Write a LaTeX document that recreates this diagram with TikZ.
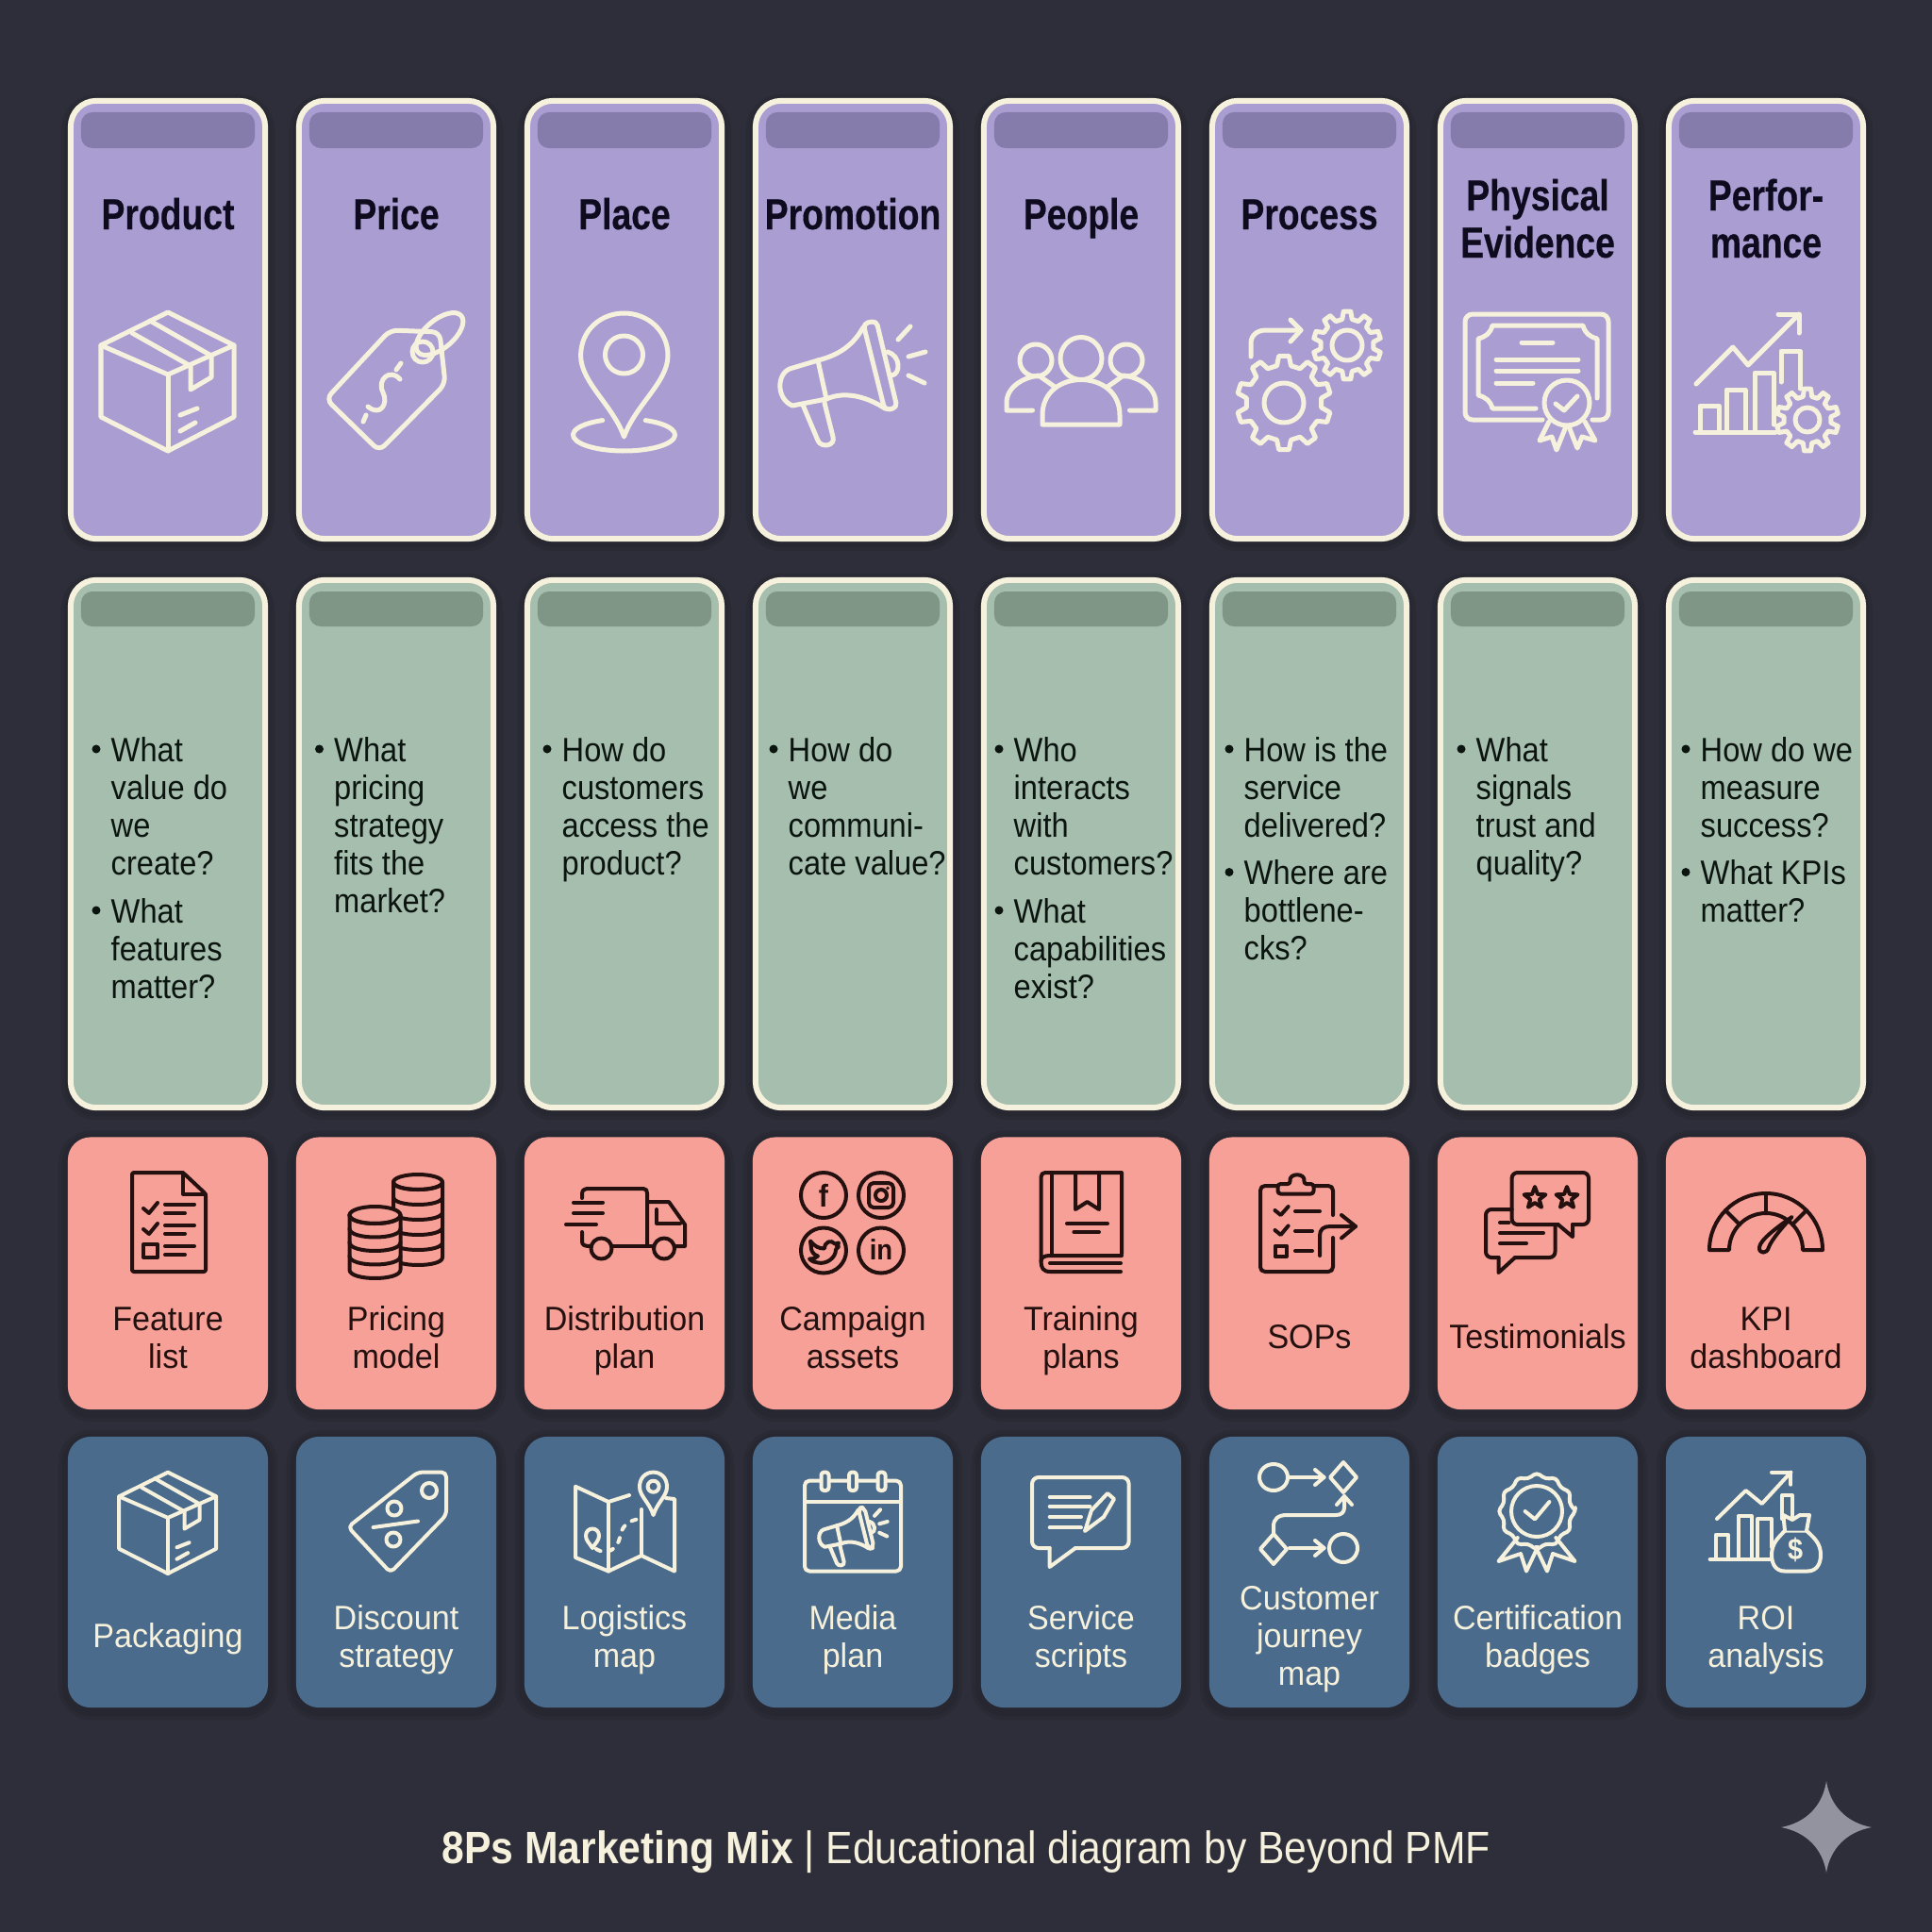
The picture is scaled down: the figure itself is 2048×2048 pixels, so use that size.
\documentclass[tikz,border=0pt]{standalone}
\usepackage{fontspec}
\setmainfont{Liberation Sans}
\newfontfamily\headfont{Liberation Sans}[FakeStretch=0.81,FakeBold=0.35]
\newfontfamily\bodyfont{Liberation Sans}[FakeStretch=0.91]
\newfontfamily\labelfont{Liberation Sans}[FakeStretch=0.95]
\newfontfamily\footfont{Liberation Sans}[FakeStretch=0.888]
\definecolor{bgc}{HTML}{2E2E3A}
\definecolor{creamc}{HTML}{F5F1DC}
\definecolor{purplec}{HTML}{A99DD2}
\definecolor{purplebar}{HTML}{857CAB}
\definecolor{greenc}{HTML}{A6BEAE}
\definecolor{greenbar}{HTML}{7F9687}
\definecolor{coralc}{HTML}{F6A097}
\definecolor{bluec}{HTML}{4A6B8C}
\definecolor{inkc}{HTML}{0E0B1E}
\definecolor{coralink}{HTML}{24100F}
\definecolor{greenink}{HTML}{0B140F}
\definecolor{starc}{HTML}{93939F}
\tikzset{
  softsh/.style={preaction={draw=black,draw opacity=.07,line width=.2cm,transform canvas={yshift=-.03cm}},
                 preaction={draw=black,draw opacity=.07,line width=.12cm,transform canvas={yshift=-.03cm}}},
  cardbase/.style={rectangle,inner sep=0,outer sep=0,softsh},
  tallcard/.style={cardbase,draw=creamc,line width=.06cm,rounded corners=.27cm,minimum width=2.06cm},
  pcard/.style={tallcard,fill=purplec,minimum height=4.64cm},
  gcard/.style={tallcard,fill=greenc,minimum height=5.59cm},
  headbar/.style={rectangle,inner sep=0,outer sep=0,rounded corners=.12cm,minimum width=1.84cm},
  pbar/.style={headbar,fill=purplebar,minimum height=.38cm},
  gbar/.style={headbar,fill=greenbar,minimum height=.37cm},
  smallcard/.style={cardbase,rounded corners=.24cm,minimum width=2.12cm},
  ccard/.style={smallcard,fill=coralc,minimum height=2.885cm},
  bcard/.style={smallcard,fill=bluec,minimum height=2.87cm},
  titletext/.style={anchor=base,inner sep=0,text=inkc,font=\headfont\bfseries\fontsize{13.1}{15}\selectfont},
  bodytext/.style={anchor=base west,inner sep=0,text=greenink,font=\bodyfont\fontsize{10.2}{12}\selectfont},
  coraltext/.style={anchor=base,inner sep=0,text=coralink,font=\labelfont\fontsize{10.2}{12}\selectfont},
  bluetext/.style={anchor=base,inner sep=0,text=creamc,font=\labelfont\fontsize{10.2}{12}\selectfont},
  bulletdot/.style={circle,fill=greenink,inner sep=0,minimum size=.09cm},
  iconp/.style={draw=creamc,line width=.05cm,line cap=round,line join=round},
  icond/.style={draw=coralink,line width=.04cm,line cap=round,line join=round},
  iconl/.style={draw=creamc,line width=.04cm,line cap=round,line join=round},
}
% multi-line text: one node per line
\newcommand\tlines[6]{% style, name, x, y, leading, list
  \foreach \lnx [count=\lni from 0] in {#6} {
    \node[#1] (#2-\lni) at (#3,{#4+#5*\lni}) {\lnx};
  }}
\newcommand\qblock[4]{% name, x, y, list
  \node[bulletdot] (#1-dot) at ({#2-16},{#3-13}) {};
  \tlines{bodytext}{#1}{{#2-1}}{#3}{40}{#4}}
\newcommand\gearicon[6]{% cx cy ro ri hole n
  \draw[shift={(#1,#2)}] ({-90-0.30*360/#6}:#4)
    \foreach \gk in {1,...,#6} {
      -- ({-90+(\gk-1-.30)*360/#6}:#4) -- ({-90+(\gk-1-.17)*360/#6}:#3)
      -- ({-90+(\gk-1+.17)*360/#6}:#3) -- ({-90+(\gk-1+.30)*360/#6}:#4)
    } -- cycle;
  \draw[shift={(#1,#2)}] (0,0) circle [radius=#5];}
\newcommand\boxicon{%
  \draw (0,-73) -- (-71,-38) -- (-71,38) -- (0,74) -- (70,38) -- (70,-38) -- cycle;
  \draw (-71,-38) -- (0,-7) -- (70,-38);
  \draw (0,-7) -- (0,74);
  \draw (-19,-64) -- (46,-27) -- (46,-4) -- (24,9) -- (24,-16) -- (-38,-51);
  \draw (13,36) -- (31,29);
  \draw (13,53) -- (29,44);}
\newcommand\megaicon{%
  \draw[rounded corners=.05cm] (12,-62) -- (26,-65) -- (48,27) -- (35,30) -- cycle;
  \draw (12,-58) .. controls (4,-44) and (-8,-30) .. (-36,-23);
  \draw (35,28) .. controls (20,18) and (-5,8) .. (-27,18);
  \draw (-36,-23) -- (-27,18);
  \draw (-36,-23) -- (-66,-14) .. controls (-80,-8) and (-80,18) .. (-63,25) -- (-27,18);
  \draw (-52,24) -- (-36,62) .. controls (-33,70) and (-17,68) .. (-20,58) -- (-29,22);
  \draw (38,-32) .. controls (52,-28) and (52,-8) .. (42,-7);
  \draw (49,-45) -- (62,-59);
  \draw (60,-27) -- (78,-32);
  \draw (60,-7) -- (77,1);}
\newcommand\coinstack[7]{% cx top rx ry n step fill
  \draw[fill=#7] ({#1-#3},#2) -- ({#1-#3},{#2+#5*#6})
     .. controls ({#1-#3},{#2+#5*#6+1.33*#4}) and ({#1+#3},{#2+#5*#6+1.33*#4}) .. ({#1+#3},{#2+#5*#6})
     -- ({#1+#3},#2);
  \draw[fill=#7] (#1,#2) ellipse [x radius=#3,y radius=#4];
  \foreach \ck in {1,...,#5} {
    \draw ({#1-#3},{#2+\ck*#6-#6}) .. controls ({#1-#3},{#2+\ck*#6-#6+1.33*#4}) and ({#1+#3},{#2+\ck*#6-#6+1.33*#4}) .. ({#1+#3},{#2+\ck*#6-#6});
  }}
\newcommand\stariconp[3]{% cx cy R
  \draw[shift={(#1,#2)}] (-90:#3) -- (-54:{#3*.42}) -- (-18:#3) -- (18:{#3*.42}) -- (54:#3) -- (90:{#3*.42}) -- (126:#3) -- (162:{#3*.42}) -- (198:#3) -- (234:{#3*.42}) -- cycle;}
\begin{document}
\begin{tikzpicture}[x=.01cm,y=-.01cm]
\useasboundingbox (0,0) rectangle (2048,2048);
\fill[bgc] (0,0) rectangle (2048,2048);
% cards
\foreach \cc in {1,...,8} {
  \node[pcard] (p\cc) at ({178+(\cc-1)*242},339) {};
  \node[pbar] (pb\cc) at ({178+(\cc-1)*242},138) {};
  \node[gcard] (g\cc) at ({178+(\cc-1)*242},894.5) {};
  \node[gbar] (gb\cc) at ({178+(\cc-1)*242},645.5) {};
  \node[ccard] (c\cc) at ({178+(\cc-1)*242},1349.75) {};
  \node[bcard] (b\cc) at ({178+(\cc-1)*242},1666.5) {};
}
% titles
\tlines{titletext}{t1}{178}{243}{50}{Product}
\tlines{titletext}{t2}{420}{243}{50}{Price}
\tlines{titletext}{t3}{662}{243}{50}{Place}
\tlines{titletext}{t4}{904}{243}{50}{Promotion}
\tlines{titletext}{t5}{1146}{243}{50}{People}
\tlines{titletext}{t6}{1388}{243}{50}{Process}
\tlines{titletext}{t7}{1630}{223}{50}{Physical,Evidence}
\tlines{titletext}{t8}{1872}{223}{50}{Perfor-,mance}
% questions
\qblock{q1a}{118}{807}{What,value do,we,create?}
\qblock{q1b}{118}{978}{What,features,matter?}
\qblock{q2a}{354.5}{807}{What,pricing,strategy,fits the,market?}
\qblock{q3a}{596}{807}{How do,customers,access the,product?}
\qblock{q4a}{836}{807}{How do,we,communi-,cate value?}
\qblock{q5a}{1075}{807}{Who,interacts,with,customers?}
\qblock{q5b}{1075}{978}{What,capabilities,exist?}
\qblock{q6a}{1319}{807}{How is the,service,delivered?}
\qblock{q6b}{1319}{937.5}{Where are,bottlene-,cks?}
\qblock{q7a}{1565}{807}{What,signals,trust and,quality?}
\qblock{q8a}{1803}{807}{How do we,measure,success?}
\qblock{q8b}{1803}{937.5}{What KPIs,matter?}
% coral labels
\tlines{coraltext}{l1}{178}{1410}{40}{Feature,list}
\tlines{coraltext}{l2}{420}{1410}{40}{Pricing,model}
\tlines{coraltext}{l3}{662}{1410}{40}{Distribution,plan}
\tlines{coraltext}{l4}{904}{1410}{40}{Campaign,assets}
\tlines{coraltext}{l5}{1146}{1410}{40}{Training,plans}
\tlines{coraltext}{l6}{1388}{1429}{40}{SOPs}
\tlines{coraltext}{l7}{1630}{1429}{40}{Testimonials}
\tlines{coraltext}{l8}{1872}{1410}{40}{KPI,dashboard}
% blue labels
\tlines{bluetext}{m1}{178}{1746}{40}{Packaging}
\tlines{bluetext}{m2}{420}{1727}{40}{Discount,strategy}
\tlines{bluetext}{m3}{662}{1727}{40}{Logistics,map}
\tlines{bluetext}{m4}{904}{1727}{40}{Media,plan}
\tlines{bluetext}{m5}{1146}{1727}{40}{Service,scripts}
\tlines{bluetext}{m6}{1388}{1706}{40}{Customer,journey,map}
\tlines{bluetext}{m7}{1630}{1727}{40}{Certification,badges}
\tlines{bluetext}{m8}{1872}{1727}{40}{ROI,analysis}
% footer
\node[anchor=base west,inner sep=0,text=creamc,font=\footfont\fontsize{13.66}{16}\selectfont] (footer) at (468,1975) {\textbf{8Ps Marketing Mix} | Educational diagram by Beyond PMF};
\fill[starc] (1936,1888) .. controls (1940,1914) and (1957,1932) .. (1984,1937) .. controls (1957,1942) and (1940,1960) .. (1936,1985) .. controls (1932,1960) and (1915,1942) .. (1888,1937) .. controls (1915,1932) and (1932,1914) .. cycle;

% ===== purple icons =====
\begin{scope}[iconp]
  \begin{scope}[shift={(178,404)}] \boxicon \end{scope}
  % price tag
  \draw[rounded corners=.08cm] (413.5,350) -- (466,352) -- (472,407) -- (402,478) -- (345.6,423) -- cycle;
  \draw (448,373) circle [radius=11];
  \draw[rotate around={40:(466,354)}] (466,354) ellipse [x radius=30,y radius=15];
  \draw (424,402) .. controls (414,390) and (399,402) .. (406,416) .. controls (412,428) and (403,442) .. (390,431);
  \draw (420,392) -- (425,385);
  \draw (388,440) -- (385,447);
  % pin
  \draw (661.5,463) .. controls (650,430) and (615.6,405) .. (615.6,377) .. controls (615.6,350) and (637,332) .. (661.5,332) .. controls (686,332) and (708,350) .. (708,377) .. controls (708,405) and (673,430) .. (661.5,463) -- cycle;
  \draw (661.5,376) circle [radius=20];
  \draw ([shift={(661.5,461)}]-65:54 and 17) arc [start angle=-65,end angle=245,x radius=54,y radius=17];
  % megaphone
  \begin{scope}[shift={(903,405)}] \megaicon \end{scope}
  % people
  \draw (1146,380) ellipse [x radius=22,y radius=22.5];
  \draw (1105,450) -- (1187,450) -- (1187,440) .. controls (1187,390) and (1105,390) .. (1105,440) -- cycle;
  \draw (1098,382) ellipse [x radius=17,y radius=17];
  \draw (1194,382) ellipse [x radius=17,y radius=17];
  \draw (1094.5,435) -- (1067,435) -- (1067,427) .. controls (1067,410) and (1085,400) .. (1101,398) -- (1118,410);
  \draw (1197.5,435) -- (1225,435) -- (1225,427) .. controls (1225,410) and (1207,400) .. (1191,398) -- (1174,410);
  % process
  \gearicon{1361}{427}{50}{40}{21}{10}
  \gearicon{1428}{366}{36}{28}{16}{10}
  \draw (1326,378) -- (1326,364) .. controls (1326,355) and (1333,350) .. (1342,350) -- (1379,350);
  \draw (1368,339) -- (1379,350) -- (1368,362);
  % certificate
  \draw[rounded corners=.08cm] (1635,445) -- (1553,445) -- (1553,333) -- (1705,333) -- (1705,445) -- (1688,445);
  \draw (1628,433) -- (1582,433) .. controls (1580,425) and (1575,421) .. (1567,419) -- (1567,359) .. controls (1575,357) and (1580,353) .. (1582,345) -- (1678,345) .. controls (1680,353) and (1685,357) .. (1693,359) -- (1693,422);
  \draw (1613,363) -- (1646,363);
  \draw (1586,381) -- (1673,381);
  \draw (1586,393) -- (1673,393);
  \draw (1586,406) -- (1625,406);
  \draw (1661,427) circle [radius=24];
  \draw (1649,428) -- (1658,435) -- (1672,420);
  \draw (1642,447) -- (1632,467) -- (1645,463) -- (1650,477) -- (1660,452);
  \draw (1663,452) -- (1672,475) -- (1677,463) -- (1691,467) -- (1680,447);
  % performance
  \draw (1797,458) -- (1882,458);
  \draw (1802,458) -- (1802,430) -- (1822,430) -- (1822,458);
  \draw (1830,458) -- (1830,413) -- (1850,413) -- (1850,458);
  \draw (1860,458) -- (1860,395) -- (1880,395) -- (1880,450);
  \draw (1888,405) -- (1888,372) -- (1908,372) -- (1908,412);
  \draw (1798,407) -- (1837,368) -- (1853,387) -- (1907,333);
  \draw (1885,333) -- (1907,333) -- (1907,353);
  \gearicon{1916}{445}{33}{25}{13}{10}
\end{scope}

% ===== coral icons =====
\begin{scope}[icond]
  % feature list
  \draw[rounded corners=.02cm] (194,1243) -- (140,1243) -- (140,1348) -- (218,1348) -- (218,1265.5) -- cycle;
  \draw (194,1243) -- (194,1265.5) -- (218,1265.5);
  \draw (152,1281) -- (158,1286) -- (167,1275);
  \draw (175,1276.5) -- (206,1276.5);
  \draw (175,1286) -- (196,1286);
  \draw (152,1303) -- (158,1308) -- (167,1297);
  \draw (175,1299) -- (206,1299);
  \draw (175,1307.5) -- (196,1307.5);
  \draw (152,1319) rectangle (167,1333);
  \draw (175,1321) -- (206,1321);
  \draw (175,1330) -- (196,1330);
  % coins
  \coinstack{443}{1253}{26}{8}{5}{16}{coralc}
  \coinstack{397.5}{1288}{27}{9}{4}{14.5}{coralc}
  % truck
  \draw (617,1270) -- (617,1266) .. controls (617,1262) and (619,1260) .. (622,1260) -- (682,1260) .. controls (685,1260) and (686,1262) .. (686,1265) -- (686,1321);
  \draw (608,1274.5) -- (639,1274.5);
  \draw (608,1286) -- (639,1286);
  \draw (600,1298) -- (632,1298);
  \draw (617,1306) -- (617,1316) .. controls (617,1320) and (620,1321) .. (626,1321);
  \draw (648,1321) -- (693,1321);
  \draw (686,1274) -- (709,1274) -- (726,1298) -- (726,1321) -- (715,1321);
  \draw (696,1282) -- (696,1297) -- (721,1297);
  \draw (637.5,1323.5) circle [radius=11];
  \draw (704,1323.5) circle [radius=11];
  % social
  \draw (873,1267) circle [radius=24];
  \draw (934,1267) circle [radius=24];
  \draw (873,1325.5) circle [radius=24];
  \draw (934,1325.5) circle [radius=24];
  \node[inner sep=0,text=coralink,font=\bodyfont\bfseries\fontsize{9.5}{10}\selectfont] (fb) at (873,1267) {f};
  \node[inner sep=0,text=coralink,font=\bodyfont\bfseries\fontsize{8.6}{10}\selectfont] (li) at (934,1325) {in};
  \draw[rounded corners=.05cm] (921,1254) rectangle (947,1280);
  \draw (934,1267) circle [radius=6];
  \fill[coralink] (941,1259.5) circle [radius=1.8];
  \draw[shift={(873,1325.5)}] (-14,-10) .. controls (-9,-4) and (-5,-2) .. (1,-2) .. controls (1,-9) and (8,-12) .. (12,-7) -- (16,-8) -- (14,-4) -- (16,-4) -- (13,-1) .. controls (13,8) and (3,15) .. (-6,13) .. controls (-9,12.5) and (-12,12) .. (-15,9) .. controls (-11,9) and (-8,8) .. (-6,6) .. controls (-10,5) and (-13,1) .. (-13,-2) -- cycle;
  % book
  \draw (1189,1329) -- (1189,1243) -- (1108,1243) .. controls (1105,1243) and (1103.5,1245) .. (1103.5,1248) -- (1103.5,1337) .. controls (1103.5,1344) and (1106,1348) .. (1113,1348) -- (1188,1348);
  \draw (1103.5,1337) .. controls (1103.5,1333) and (1107,1331) .. (1113,1331) -- (1189,1331);
  \draw (1113,1339) -- (1188,1339);
  \draw (1114.5,1243) -- (1114.5,1329);
  \draw (1140,1243) -- (1140,1282) -- (1152.5,1274) -- (1165,1282) -- (1165,1243);
  \draw (1131,1297) -- (1174,1297);
  \draw (1138.4,1306) -- (1165,1306);
  % SOP
  \draw (1354.5,1257) -- (1341,1257) .. controls (1338,1257) and (1336,1259) .. (1336,1262) -- (1336,1343) .. controls (1336,1346) and (1338,1348) .. (1341,1348) -- (1408,1348) .. controls (1411,1348) and (1413,1346) .. (1413,1343) -- (1413,1312);
  \draw (1392.5,1257) -- (1408,1257) .. controls (1411,1257) and (1413,1259) .. (1413,1262) -- (1413,1288);
  \draw[rounded corners=.03cm] (1354.5,1265.5) -- (1354.5,1255) -- (1368,1255) .. controls (1366,1243) and (1384,1243) .. (1382,1255) -- (1392.5,1255) -- (1392.5,1265.5) -- cycle;
  \draw (1351.5,1283) -- (1357.6,1288) -- (1365.6,1279);
  \draw (1373,1284) -- (1399,1284);
  \draw (1351.5,1304) -- (1357.6,1309) -- (1365.6,1299.4);
  \draw (1373,1305) -- (1391,1305);
  \draw (1351.5,1320.6) rectangle (1364,1331.6);
  \draw (1373,1326) -- (1391,1326);
  \draw (1399,1331) -- (1399,1310) .. controls (1399,1303) and (1403,1300) .. (1410,1300) -- (1437,1300);
  \draw (1422,1288) -- (1437,1300) -- (1422,1312.4);
  % testimonials
  \draw[rounded corners=.06cm] (1651.6,1298) -- (1602.6,1298) -- (1602.6,1243) -- (1684,1243) -- (1684,1298) -- (1667,1298);
  \draw (1651.6,1298) -- (1667,1311) -- (1667,1298);
  \stariconp{1627}{1270}{12}
  \stariconp{1661}{1270}{12}
  \draw[rounded corners=.06cm] (1602.6,1282) -- (1575,1282) -- (1575,1333) -- (1588.5,1333);
  \draw (1588.5,1333) -- (1588.5,1349) -- (1606,1333);
  \draw[rounded corners=.06cm] (1606,1333) -- (1648.5,1333) -- (1648.5,1300);
  \draw (1590,1296) -- (1599.5,1296);
  \draw (1590,1307) -- (1636,1307);
  \draw (1590,1318) -- (1618,1318);
  % KPI gauge
  \draw ([shift={(1872,1325)}]180:60) arc [start angle=180,end angle=360,radius=60] -- ++(-21,0) arc [start angle=360,end angle=180,radius=39] -- cycle;
  \draw (1872,1265) -- (1872,1286);
  \draw (1829,1283) -- (1844,1298);
  \draw (1915,1283) -- (1900,1298);
  \draw (1899.5,1290) .. controls (1890,1300) and (1878,1314) .. (1875,1322) .. controls (1873,1330) and (1864,1329) .. (1865,1322) .. controls (1866,1314) and (1885,1300) .. (1899.5,1290) -- cycle;
\end{scope}

% ===== blue icons =====
\begin{scope}[iconl]
  \begin{scope}[shift={(178,1614)},scale=.73] \boxicon \end{scope}
  % discount tag
  \draw[rounded corners=.05cm] (443,1560.6) -- (473,1560.6) -- (473,1606) -- (414,1667) -- (369,1618.6) -- cycle;
  \draw (455,1580) circle [radius=8];
  \draw (418,1599) circle [radius=7.5];
  \draw (417,1632) circle [radius=7.5];
  \draw (395.6,1619) -- (443,1612.5);
  % map
  \draw (667,1585) -- (645,1592) -- (610,1575.7) -- (610,1651) -- (645,1665.5) -- (680,1649) -- (715,1665.5) -- (715,1589) -- (706,1588);
  \draw (645,1592) -- (645,1665.5);
  \draw (680,1600) -- (680,1649);
  \draw (692.6,1606) .. controls (688,1592) and (678,1586) .. (678,1576) .. controls (678,1566) and (685,1560.6) .. (692.6,1560.6) .. controls (700,1560.6) and (707,1566) .. (707,1576) .. controls (707,1586) and (697,1592) .. (692.6,1606) -- cycle;
  \draw (692.6,1575.7) circle [radius=6];
  \draw (628,1641) .. controls (625,1636) and (621,1633) .. (621,1628) .. controls (621,1618) and (635,1618) .. (635,1628) .. controls (635,1633) and (631,1636) .. (628,1641) -- cycle;
  \draw[dash pattern=on .05cm off .09cm] (632,1642) .. controls (645,1650) and (655,1640) .. (657,1630) .. controls (659,1618) and (665,1612) .. (678,1610);
  % calendar
  \draw[rounded corners=.05cm] (853,1569.6) rectangle (955,1665.5);
  \draw (853,1592) -- (955,1592);
  \foreach \rx in {874.5,904,934.5} {
    \draw[fill=bluec,rounded corners=.03cm] ({\rx-4},1560.6) rectangle ({\rx+4},1580);
  }
  \begin{scope}[shift={(904,1628)},scale=.47] \megaicon \end{scope}
  % service scripts
  \draw[rounded corners=.07cm] (1140,1641) -- (1196.6,1641) -- (1196.6,1566) -- (1094,1566) -- (1094,1641) -- (1112.7,1641);
  \draw (1112.7,1641) -- (1112.7,1661) -- (1140,1641);
  \draw (1112.7,1587) -- (1155.5,1587);
  \draw (1112.7,1597) -- (1155.5,1597);
  \draw (1112.7,1608) -- (1146,1608);
  \draw (1112.7,1619.4) -- (1146,1619.4);
  \draw (1150,1623) -- (1157,1601) -- (1174,1583) -- (1181,1589) -- (1170,1608) -- cycle;
  % journey
  \draw (1350,1566) ellipse [x radius=15,y radius=14];
  \draw (1367,1566) -- (1403.5,1566);
  \draw (1394,1558) -- (1403.5,1566) -- (1394,1574);
  \draw (1424,1550) -- (1438,1566) -- (1424,1582) -- (1410,1566) -- cycle;
  \draw (1350,1626) -- (1350,1618) .. controls (1350,1610) and (1355,1606) .. (1364,1606) -- (1416,1606) .. controls (1422,1606) and (1425,1603) .. (1425,1598) -- (1425,1586);
  \draw (1417,1595) -- (1425,1586) -- (1433,1595);
  \draw (1350,1626) -- (1364,1642) -- (1350,1658) -- (1336,1642) -- cycle;
  \draw (1367,1641) -- (1403.5,1641);
  \draw (1394,1633) -- (1403.5,1641) -- (1394,1649);
  \draw (1424,1641) ellipse [x radius=15,y radius=15];
  % badge
  \draw[shift={(1629,1602)},rounded corners=.04cm] (0:41)
    \foreach \bk in {1,...,12} { -- ({(\bk-.5)*30}:35.5) -- ({\bk*30}:41) } -- cycle;
  \draw (1629,1602) circle [radius=27];
  \draw (1616.6,1602) -- (1627,1610.4) -- (1642.4,1592);
  \draw (1608.7,1630) -- (1588.5,1655) -- (1612,1647) -- (1618,1665.5) -- (1630,1640);
  \draw (1649.3,1630) -- (1669.5,1655) -- (1646,1647) -- (1640,1665.5) -- (1628,1640);
  % ROI
  \draw (1812.6,1653) -- (1878,1653);
  \draw (1818.7,1653) -- (1818.7,1627) -- (1832,1627) -- (1832,1653);
  \draw (1842.6,1653) -- (1842.6,1607) -- (1856.7,1607) -- (1856.7,1653);
  \draw (1863,1653) -- (1863,1610) -- (1878,1610) -- (1878,1640);
  \draw (1889,1610) -- (1889,1585) -- (1899.6,1585) -- (1899.6,1610);
  \draw (1820,1610) -- (1850.6,1580) -- (1867.7,1594) -- (1898.4,1560.6);
  \draw (1878,1560.6) -- (1898.4,1560.6) -- (1898.4,1573.7);
  \draw[fill=bluec] (1892,1622.7) .. controls (1885,1630) and (1878,1636) .. (1878,1648) .. controls (1878,1660) and (1884,1665.5) .. (1892,1665.5) -- (1916,1665.5) .. controls (1924,1665.5) and (1930,1660) .. (1930,1648) .. controls (1930,1636) and (1923,1630) .. (1915,1622.7) -- cycle;
  \draw[fill=bluec] (1892,1622.7) -- (1890.4,1606) -- (1900,1611) -- (1908,1606) -- (1918,1606) -- (1915,1622.7);
  \node[inner sep=0,text=creamc,font=\bodyfont\bfseries\fontsize{9}{10}\selectfont] (dollar) at (1903,1643) {\$};
\end{scope}
\end{tikzpicture}
\end{document}
